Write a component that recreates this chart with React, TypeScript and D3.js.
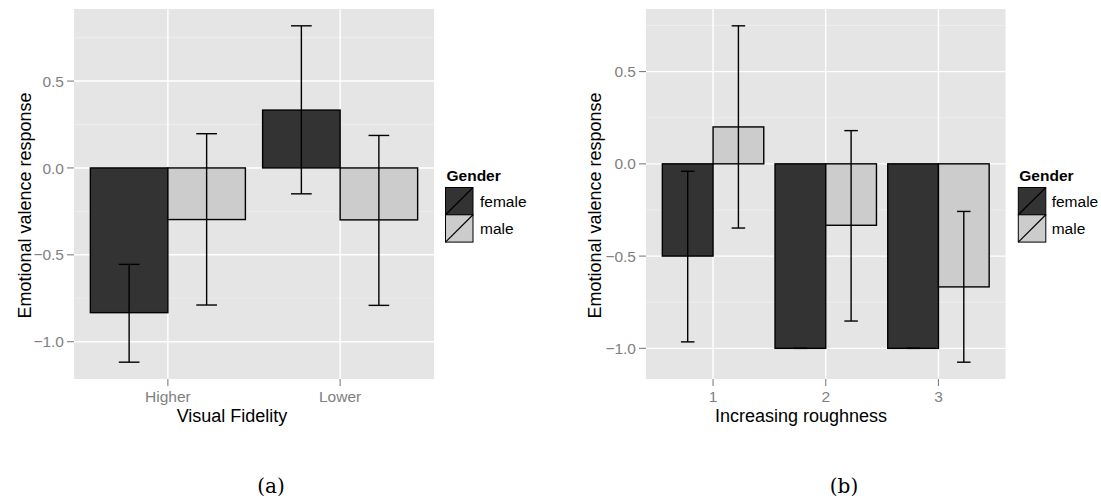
import React from "react";
import * as d3 from "d3";

// Panel (a): valence by visual fidelity
const fidelityLevels = ["Higher", "Lower"];
const fidelityFemale = [-0.833, 0.333];
const fidelityMale = [-0.297, -0.299];
const fidelityFemaleLow = [-1.118, -0.149];
const fidelityFemaleHigh = [-0.555, 0.818];
const fidelityMaleLow = [-0.789, -0.791];
const fidelityMaleHigh = [0.197, 0.187];

// Panel (b): valence by roughness level
const roughnessLevels = ["1", "2", "3"];
const roughnessFemale = [-0.5, -1.0, -1.0];
const roughnessMale = [0.2, -0.333, -0.667];
const roughnessFemaleLow = [-0.965, -1.0, -1.0];
const roughnessFemaleHigh = [-0.04, -1.0, -1.0];
const roughnessMaleLow = [-0.348, -0.852, -1.075];
const roughnessMaleHigh = [0.748, 0.18, -0.258];

const yTicks = [-1.0, -0.5, 0.0, 0.5];
const genders = ["female", "male"];
const genderFill = ["#333333", "#CCCCCC"];

const SANS = "'Liberation Sans', Arial, Helvetica, sans-serif";
const SERIF = "'DejaVu Serif', 'Liberation Serif', serif";
const GREY = "#7F7F7F";

type PanelProps = {
  levels: string[];
  female: number[];
  male: number[];
  femaleLow: number[];
  femaleHigh: number[];
  maleLow: number[];
  maleHigh: number[];
  xTitle: string;
  left: number;
  right: number;
  yTitleX: number;
  xTitleX: number;
  legendX: number;
  legendLabelX: number;
};

function Panel(p: PanelProps) {
  const top = 9;
  const bottom = 379;
  const n = p.levels.length;

  // y range: data extent (bars + error bars) expanded by 5%
  const all = [0, ...p.female, ...p.male, ...p.femaleLow, ...p.femaleHigh, ...p.maleLow, ...p.maleHigh];
  const lo = d3.min(all) as number;
  const hi = d3.max(all) as number;
  const pad = (hi - lo) * 0.05;
  const y = d3.scaleLinear().domain([lo - pad, hi + pad]).range([bottom, top]);

  // x range: bar extent expanded by 5%
  const xlo = 1 - 0.45;
  const xhi = n + 0.45;
  const xpad = (xhi - xlo) * 0.05;
  const x = d3.scaleLinear().domain([xlo - xpad, xhi + xpad]).range([p.left, p.right]);

  const [d0, d1] = y.domain();
  const minor = [-1.25, -0.75, -0.25, 0.25, 0.75].filter((v) => v > d0 && v < d1);
  const barW = 0.45;
  const ebW = 0.12;

  const series = [
    { vals: p.female, low: p.femaleLow, high: p.femaleHigh, off: -barW / 2, fill: genderFill[0] },
    { vals: p.male, low: p.maleLow, high: p.maleHigh, off: barW / 2, fill: genderFill[1] },
  ];

  return (
    <g>
      <rect x={p.left} y={top} width={p.right - p.left} height={bottom - top} fill="#E5E5E5" />
      {minor.map((v) => (
        <line key={"mn" + v} x1={p.left} x2={p.right} y1={y(v)} y2={y(v)} stroke="#F2F2F2" strokeWidth={0.7} />
      ))}
      {yTicks.map((v) => (
        <line key={"mj" + v} x1={p.left} x2={p.right} y1={y(v)} y2={y(v)} stroke="#FFFFFF" strokeWidth={1.4} />
      ))}
      {p.levels.map((_, i) => (
        <line key={"vx" + i} x1={x(i + 1)} x2={x(i + 1)} y1={top} y2={bottom} stroke="#FFFFFF" strokeWidth={1.4} />
      ))}
      {series.map((s, si) =>
        s.vals.map((v, i) => {
          const cx = i + 1 + s.off;
          const x0 = x(cx - barW / 2);
          const x1 = x(cx + barW / 2);
          return (
            <rect
              key={"b" + si + i}
              x={x0}
              y={Math.min(y(0), y(v))}
              width={x1 - x0}
              height={Math.abs(y(v) - y(0))}
              fill={s.fill}
              stroke="#000"
              strokeWidth={1.4}
            />
          );
        })
      )}
      {series.map((s, si) =>
        s.vals.map((_, i) => {
          const cx = i + 1 + s.off;
          const xa = x(cx - ebW / 2);
          const xb = x(cx + ebW / 2);
          const yl = y(s.low[i]);
          const yh = y(s.high[i]);
          return (
            <g key={"e" + si + i} stroke="#000" strokeWidth={1.4}>
              <line x1={x(cx)} x2={x(cx)} y1={yh} y2={yl} />
              <line x1={xa} x2={xb} y1={yh} y2={yh} />
              <line x1={xa} x2={xb} y1={yl} y2={yl} />
            </g>
          );
        })
      )}
      {/* y axis */}
      {yTicks.map((v) => (
        <g key={"yt" + v}>
          <line x1={p.left - 7} x2={p.left} y1={y(v)} y2={y(v)} stroke={GREY} strokeWidth={1.1} />
          <text x={p.left - 10} y={y(v)} dy="0.36em" textAnchor="end" fontSize={15.5} fill={GREY} fontFamily={SANS}>
            {d3.format(".1f")(v).replace("-", "\u2212")}
          </text>
        </g>
      ))}
      {/* x axis */}
      {p.levels.map((c, i) => (
        <g key={"xt" + c}>
          <line x1={x(i + 1)} x2={x(i + 1)} y1={bottom} y2={bottom + 7} stroke={GREY} strokeWidth={1.1} />
          <text x={x(i + 1)} y={401.7} textAnchor="middle" fontSize={15.5} fill={GREY} fontFamily={SANS}>
            {c}
          </text>
        </g>
      ))}
      <text x={p.xTitleX} y={421.7} textAnchor="middle" fontSize={18} fill="#000" fontFamily={SANS}>
        {p.xTitle}
      </text>
      <text
        transform={`translate(${p.yTitleX},205.5) rotate(-90)`}
        textAnchor="middle"
        fontSize={18}
        fill="#000"
        fontFamily={SANS}
      >
        Emotional valence response
      </text>
      {/* legend */}
      <text x={p.legendX + 1} y={180.7} fontSize={15.5} fontWeight="bold" fill="#000" fontFamily={SANS}>
        Gender
      </text>
      {genders.map((g, i) => {
        const ky = 187.5 + i * 27.3;
        return (
          <g key={"lg" + g}>
            <rect x={p.legendX} y={ky} width={27.5} height={27.3} fill={genderFill[i]} stroke="#000" strokeWidth={1} />
            <line x1={p.legendX} y1={ky + 27.3} x2={p.legendX + 27.5} y2={ky} stroke="#000" strokeWidth={1.2} />
            <text x={p.legendLabelX} y={ky + 13.7} dy="0.36em" fontSize={15.5} fill="#000" fontFamily={SANS}>
              {g}
            </text>
          </g>
        );
      })}
    </g>
  );
}

export default function App() {
  return (
    <svg
      width={1101}
      height={504}
      style={{ position: "absolute", left: 0, top: 0, background: "#fff" }}
    >
      <rect width={1101} height={504} fill="#fff" />
      <Panel
        levels={fidelityLevels}
        female={fidelityFemale}
        male={fidelityMale}
        femaleLow={fidelityFemaleLow}
        femaleHigh={fidelityFemaleHigh}
        maleLow={fidelityMaleLow}
        maleHigh={fidelityMaleHigh}
        xTitle="Visual Fidelity"
        left={74}
        right={434}
        yTitleX={30.5}
        xTitleX={232}
        legendX={445.5}
        legendLabelX={480}
      />
      <Panel
        levels={roughnessLevels}
        female={roughnessFemale}
        male={roughnessMale}
        femaleLow={roughnessFemaleLow}
        femaleHigh={roughnessFemaleHigh}
        maleLow={roughnessMaleLow}
        maleHigh={roughnessMaleHigh}
        xTitle="Increasing roughness"
        left={646}
        right={1005.5}
        yTitleX={601}
        xTitleX={801}
        legendX={1018.3}
        legendLabelX={1051.7}
      />
      <text x={271} y={493} textAnchor="middle" fontSize={20} fontFamily={SERIF} fill="#000">
        (a)
      </text>
      <text x={844} y={493} textAnchor="middle" fontSize={20} fontFamily={SERIF} fill="#000">
        (b)
      </text>
    </svg>
  );
}
